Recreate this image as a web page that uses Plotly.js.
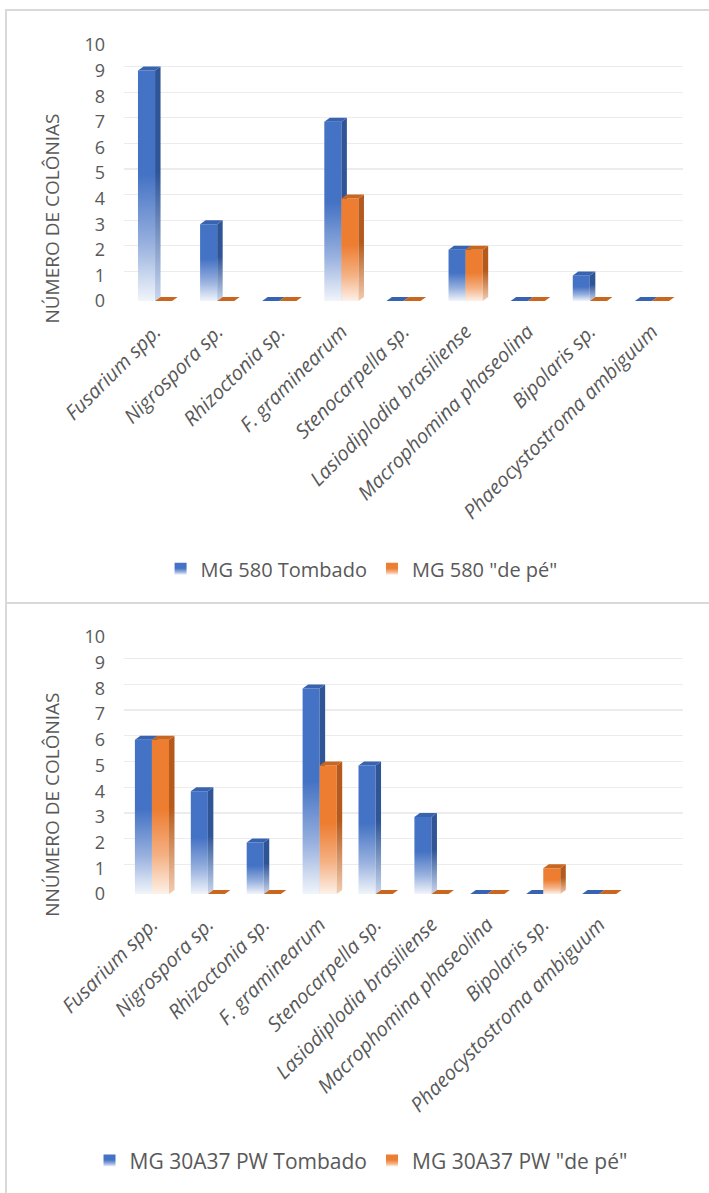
<!DOCTYPE html>
<html>
<head>
<meta charset="utf-8">
<script src="https://cdn.plot.ly/plotly-3.0.1.min.js"></script>
<style>
  html, body { margin: 0; padding: 0; background: #ffffff; }
  body { width: 709px; height: 1193px; position: relative; overflow: hidden; }
  .chart { position: absolute; left: 0; width: 709px; }
  #chartA { top: 0; height: 600px; }
  #chartB { top: 600px; height: 593px; }
  .frame { position: absolute; background: #d9d9d9; }
</style>
</head>
<body>
<div id="chartA" class="chart"></div>
<div id="chartB" class="chart"></div>
<div class="frame" style="left:5px; top:9px; width:704px; height:2px;"></div>
<div class="frame" style="left:5px; top:602px; width:704px; height:2px;"></div>
<div class="frame" style="left:5px; top:9px; width:2px; height:1184px;"></div>

<script>
// Fungal genera isolated from the stalks
const categories = [
  'Fusarium spp.', 'Nigrospora sp.', 'Rhizoctonia sp.', 'F. graminearum',
  'Stenocarpella sp.', 'Lasiodiplodia brasiliense', 'Macrophomina phaseolina',
  'Bipolaris sp.', 'Phaeocystostroma ambiguum'
];

// Colony counts, hybrid MG 580
const mg580Tombado = [9, 3, 0, 7, 0, 2, 0, 1, 0];
const mg580DePe    = [0, 0, 0, 4, 0, 2, 0, 0, 0];

// Colony counts, hybrid MG 30A37 PW
const mg30a37Tombado = [6, 4, 2, 8, 5, 3, 0, 0, 0];
const mg30a37DePe    = [6, 0, 0, 5, 0, 0, 0, 1, 0];

const seriesNamesA = ['MG 580 Tombado', 'MG 580 "de pé"'];
const seriesNamesB = ['MG 30A37 PW Tombado', 'MG 30A37 PW "de pé"'];
const yTitleA = 'NÚMERO DE COLÔNIAS';
const yTitleB = 'NNÚMERO DE COLÔNIAS';
const yTickValues = [0, 1, 2, 3, 4, 5, 6, 7, 8, 9, 10];

const FONT = '"Open Sans", "Noto Sans", "DejaVu Sans", sans-serif';
const TEXT = '#595959';

// Shading for the extruded columns
const palettes = [
  { base: '#4472C4', mid: '#97b0de', light: '#f1f5fb',
    side: '#2F5597', sideLight: '#c9d6ee', top: '#3763B0' },
  { base: '#ED7D31', mid: '#f4b184', light: '#fdf1e8',
    side: '#B55A1C', sideLight: '#f2cdb2', top: '#C9661F' }
];
const DEPTH_X = 5.5;
const DEPTH_Y = 4;

function barTrace(name, values, color) {
  return {
    type: 'bar', name: name, x: categories, y: values,
    marker: { color: color, line: { width: 0 } },
    cliponaxis: false, hoverinfo: 'skip'
  };
}

function buildLayout(opts) {
  return {
    width: 709, height: opts.height,
    margin: { l: 124, r: 26, t: opts.top, b: opts.bottom, pad: 0 },
    paper_bgcolor: 'rgba(0,0,0,0)', plot_bgcolor: 'rgba(0,0,0,0)',
    font: { family: FONT, color: TEXT },
    barmode: 'group', bargap: opts.bargap, bargroupgap: 0,
    showlegend: true,
    legend: {
      orientation: 'h', x: opts.legendX, xanchor: 'center', y: opts.legendY, yanchor: 'middle',
      font: { family: FONT, size: opts.legendSize, color: TEXT }, itemwidth: 30,
      bgcolor: 'rgba(0,0,0,0)'
    },
    xaxis: {
      type: 'category', range: opts.xRange, fixedrange: true,
      showgrid: false, zeroline: false, showline: false, ticks: '',
      tickangle: -45,
      tickfont: { family: FONT, size: 20, color: TEXT, style: 'italic' },
      ticklabelstandoff: 18
    },
    yaxis: {
      range: [0, 10], tickvals: yTickValues, fixedrange: true,
      showgrid: true, gridcolor: '#ececec', gridwidth: 1.3,
      zeroline: false, showline: false, ticks: '',
      tickfont: { family: FONT, size: 18, color: TEXT },
      ticklabelstandoff: 18
    },
    annotations: [{
      text: opts.yTitle, xref: 'paper', yref: 'paper',
      x: -0.129, y: opts.titleY, xanchor: 'center', yanchor: 'middle',
      textangle: -90, showarrow: false,
      font: { family: FONT, size: 19, color: TEXT }
    }]
  };
}

const SVGNS = 'http://www.w3.org/2000/svg';
function svgEl(tag, attrs) {
  const e = document.createElementNS(SVGNS, tag);
  for (const k in attrs) e.setAttribute(k, attrs[k]);
  return e;
}
function addGradient(defs, id, stops) {
  const g = svgEl('linearGradient', { id: id, x1: 0, y1: 0, x2: 0, y2: 1 });
  stops.forEach(s => g.appendChild(svgEl('stop', { offset: s[0], 'stop-color': s[1] })));
  defs.appendChild(g);
}

// Give each column a faded front, a darker side and a top face
function extrudeBars(gd, prefix) {
  const fl = gd._fullLayout;
  const xa = fl.xaxis, ya = fl.yaxis;
  const svg = gd.querySelector('svg.main-svg');
  let defs = svg.querySelector('defs');
  if (!defs) { defs = svgEl('defs', {}); svg.insertBefore(defs, svg.firstChild); }

  palettes.forEach((p, i) => {
    addGradient(defs, prefix + 'front' + i,
      [[0, p.base], [0.45, p.base], [0.75, p.mid], [1, p.light]]);
    addGradient(defs, prefix + 'side' + i,
      [[0, p.side], [0.45, p.side], [1, p.sideLight]]);
  });

  const layer = gd.querySelector('.barlayer');
  layer.setAttribute('transform', 'translate(0,' + DEPTH_Y + ')');
  const traceGroups = layer.querySelectorAll('g.trace');

  gd.calcdata.forEach((cd, ti) => {
    const tg = traceGroups[ti];
    const pal = palettes[ti];
    tg.querySelectorAll('g.point path').forEach(p => {
      p.style.fill = 'url(#' + prefix + 'front' + ti + ')';
    });
    const extra = svgEl('g', {});
    cd.forEach(di => {
      const w = di.w !== undefined ? di.w : 0;
      const p0 = di.p0 !== undefined ? di.p0 : di.p - w / 2;
      const p1 = di.p1 !== undefined ? di.p1 : di.p + w / 2;
      const x0 = xa.c2p(p0, true), x1 = xa.c2p(p1, true);
      const yb = ya.c2p(di.s0 !== undefined ? di.s0 : 0, true);
      const yt = ya.c2p(di.s1 !== undefined ? di.s1 : di.s, true);
      if (yb - yt > 0.5) {
        extra.appendChild(svgEl('polygon', {
          points: [x1, yt, x1 + DEPTH_X, yt - DEPTH_Y, x1 + DEPTH_X, yb - DEPTH_Y, x1, yb].join(' '),
          fill: 'url(#' + prefix + 'side' + ti + ')'
        }));
      }
      extra.appendChild(svgEl('polygon', {
        points: [x0, yt, x0 + DEPTH_X, yt - DEPTH_Y, x1 + DEPTH_X, yt - DEPTH_Y, x1, yt].join(' '),
        fill: pal.top
      }));
    });
    tg.appendChild(extra);
  });

  // value labels sit level with the front faces of the columns
  gd.querySelectorAll('.yaxislayer-above').forEach(g => {
    g.setAttribute('transform', 'translate(0,' + DEPTH_Y + ')');
  });

  gd.querySelectorAll('.legend .traces').forEach((lt, i) => {
    lt.querySelectorAll('.legendpoints path').forEach(p => {
      p.style.fill = 'url(#' + prefix + 'front' + i + ')';
      p.style.stroke = 'none';
    });
  });
}

const config = { displayModeBar: false, staticPlot: true };

const layoutA = buildLayout({
  height: 600, top: 41, bottom: 301, bargap: 0.45, xRange: [-0.5, 8.5],
  legendX: 0.425, legendY: -1.062, legendSize: 20, titleY: 0.306, yTitle: yTitleA
});
const layoutB = buildLayout({
  height: 593, top: 33, bottom: 300, bargap: 0.39, xRange: [-0.5, 9.5],
  legendX: 0.424, legendY: -1.054, legendSize: 21, titleY: 0.331, yTitle: yTitleB
});

Plotly.newPlot('chartA', [
  barTrace(seriesNamesA[0], mg580Tombado, palettes[0].base),
  barTrace(seriesNamesA[1], mg580DePe, palettes[1].base)
], layoutA, config).then(gd => extrudeBars(gd, 'a'));

Plotly.newPlot('chartB', [
  barTrace(seriesNamesB[0], mg30a37Tombado, palettes[0].base),
  barTrace(seriesNamesB[1], mg30a37DePe, palettes[1].base)
], layoutB, config).then(gd => extrudeBars(gd, 'b'));
</script>
</body>
</html>
